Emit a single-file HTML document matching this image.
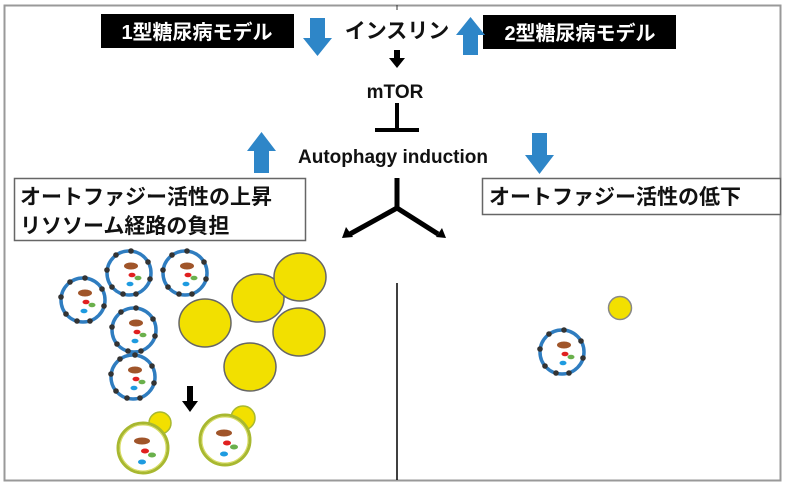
<!DOCTYPE html>
<html><head><meta charset="utf-8"><style>
html,body{margin:0;padding:0;background:#fff;}
svg{display:block;}
text{font-family:"Liberation Sans","Noto Sans CJK JP",sans-serif;font-weight:bold;}
</style></head><body>
<svg width="792" height="491" viewBox="0 0 792 491" xmlns="http://www.w3.org/2000/svg">
<defs>
<g id="cell">
<circle r="22" fill="#fff" stroke="#2f7dc0" stroke-width="3.5"/>
<g fill="#333">
<circle cx="-22" cy="-3" r="2.8"/><circle cx="-13" cy="-18" r="2.8"/><circle cx="2" cy="-22" r="2.8"/><circle cx="19" cy="-11" r="2.8"/><circle cx="21" cy="6" r="2.8"/><circle cx="-6" cy="21" r="2.8"/><circle cx="-17" cy="14" r="2.8"/><circle cx="7" cy="21" r="2.8"/>
</g>
<ellipse cx="2" cy="-7" rx="7" ry="3.5" fill="#a0552a"/>
<ellipse cx="3" cy="2" rx="3.5" ry="2.3" fill="#e02020"/>
<ellipse cx="9" cy="5" rx="3.5" ry="2.3" fill="#6ab04c"/>
<ellipse cx="1" cy="11" rx="3.5" ry="2.3" fill="#1e9be0"/>
</g>
<g id="gcell">
<circle r="25" fill="#fff" stroke="#a8b830" stroke-width="3"/>
<circle r="23" fill="none" stroke="#d8dc60" stroke-width="1"/>
<ellipse cx="-1" cy="-7" rx="8" ry="3.5" fill="#a0552a"/>
<ellipse cx="2" cy="3" rx="4" ry="2.5" fill="#e02020"/>
<ellipse cx="9" cy="7" rx="4" ry="2.5" fill="#6ab04c"/>
<ellipse cx="-1" cy="14" rx="4" ry="2.5" fill="#1e9be0"/>
</g>
</defs>
<rect x="4.5" y="5.5" width="776" height="475" fill="#fff" stroke="#999" stroke-width="2"/>
<line x1="397" y1="5" x2="397" y2="10" stroke="#333"/>
<rect x="101" y="14" width="193" height="34" fill="#000"/>
<text x="197" y="39" fill="#fff" font-size="20" text-anchor="middle">1型糖尿病モデル</text>
<rect x="483" y="15" width="193" height="34" fill="#000"/>
<text x="580" y="40" fill="#fff" font-size="20" text-anchor="middle">2型糖尿病モデル</text>
<text x="397" y="38" font-size="21" text-anchor="middle" fill="#111">インスリン</text>
<path d="M310 18 h15 v20 h7 l-14.5 18 l-14.5 -18 h7z" fill="#2e86c8"/>
<path d="M463 55 h15 v-20 h7 l-14.5 -18 l-14.5 18 h7z" fill="#2e86c8"/>
<path d="M254 173 h15 v-22 h7 l-14.5 -19 l-14.5 19 h7z" fill="#2e86c8"/>
<path d="M532 133 h15 v22 h7 l-14.5 19 l-14.5 -19 h7z" fill="#2e86c8"/>
<path d="M394 50 h6 v8 h5 l-8 10 l-8 -10 h5z" fill="#000"/>
<text x="395" y="98" font-size="19" text-anchor="middle" fill="#111">mTOR</text>
<line x1="397" y1="103" x2="397" y2="130" stroke="#000" stroke-width="4"/>
<line x1="375" y1="130" x2="419" y2="130" stroke="#000" stroke-width="4"/>
<text x="393" y="163" font-size="19" text-anchor="middle" fill="#111">Autophagy induction</text>
<rect x="14.5" y="178.5" width="291" height="62" fill="#fff" stroke="#666" stroke-width="1.5"/>
<text x="20" y="204" font-size="21" fill="#111">オートファジー活性の上昇</text>
<text x="20" y="233" font-size="21" fill="#111">リソソーム経路の負担</text>
<rect x="482.5" y="178.5" width="298" height="36" fill="#fff" stroke="#666" stroke-width="1.5"/>
<text x="489" y="204" font-size="21" fill="#111">オートファジー活性の低下</text>
<g stroke="#000" stroke-width="5" fill="none">
<line x1="397" y1="178" x2="397" y2="208"/>
<line x1="397" y1="208" x2="350" y2="234"/>
<line x1="397" y1="208" x2="438" y2="234"/>
</g>
<path d="M342 238 l4 -11 l7 10z" fill="#000"/>
<path d="M446 238 l-10 -1 l6 -9z" fill="#000"/>
<line x1="397" y1="283" x2="397" y2="480" stroke="#000" stroke-width="1.5"/>
<use href="#cell" x="83" y="300"/>
<use href="#cell" x="129" y="273"/>
<use href="#cell" x="185" y="273"/>
<use href="#cell" x="134" y="330"/>
<use href="#cell" x="133" y="377"/>
<g fill="#f2e000" stroke="#666" stroke-width="1.5">
<ellipse cx="205" cy="323" rx="26" ry="24"/>
<ellipse cx="258" cy="298" rx="26" ry="24"/>
<ellipse cx="300" cy="277" rx="26" ry="24"/>
<ellipse cx="299" cy="332" rx="26" ry="24"/>
<ellipse cx="250" cy="367" rx="26" ry="24"/>
</g>
<path d="M187 386 h6 v15 h5 l-8 11 l-8 -11 h5z" fill="#000"/>
<circle cx="160" cy="423" r="11" fill="#f2e000" stroke="#a8b830" stroke-width="1.5"/>
<use href="#gcell" x="143" y="448"/>
<circle cx="243" cy="418" r="12" fill="#f2e000" stroke="#a8b830" stroke-width="1.5"/>
<use href="#gcell" x="225" y="440"/>
<use href="#cell" x="562" y="352"/>
<circle cx="620" cy="308" r="11.5" fill="#f2e000" stroke="#888" stroke-width="1.5"/>
</svg>
</body></html>
